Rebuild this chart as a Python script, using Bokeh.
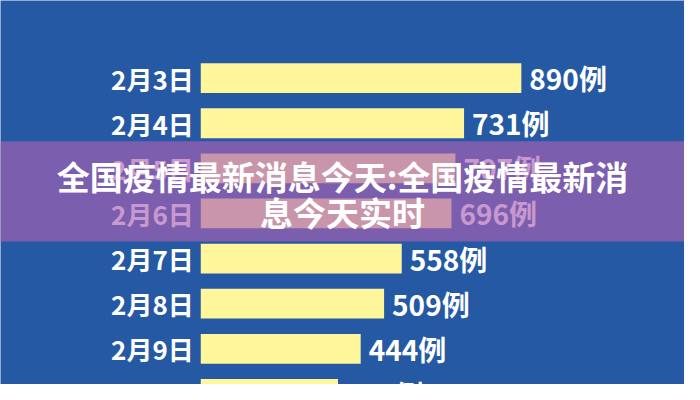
import numpy as np
from bokeh.plotting import figure
from bokeh.models import ColumnDataSource, Range1d, BoxAnnotation, Label
from bokeh.core.properties import value
from bokeh.embed import file_html
from bokeh.resources import INLINE

# Data
dates = ["2月3日", "2月4日", "2月5日", "2月6日", "2月7日", "2月8日", "2月9日", "2月10日"]
cases = [890, 731, 707, 696, 558, 509, 444, 381]
unit = "例"
overlay_line1 = "全国疫情最新消息今天:全国疫情最新消"
overlay_line2 = "息今天实时"

BLUE = "#2659A3"
YELLOW = "#FFF59B"
FONT = "Noto Sans CJK SC"

idx = np.arange(len(dates))
source = ColumnDataSource(dict(
    y=idx,
    cases=cases,
    zero=[0] * len(cases),
    date=dates,
    label=[f"{v}{unit}" for v in cases],
))

p = figure(width=684, height=384, output_backend="svg", toolbar_location=None,
           x_range=Range1d(-556, 1343), y_range=Range1d(6.79, -1.72),
           min_border=0)
p.background_fill_color = BLUE
p.border_fill_color = BLUE
p.outline_line_color = None
p.axis.visible = False
p.grid.visible = False

p.hbar(y="y", left="zero", right="cases", height=0.66, source=source,
       fill_color=YELLOW, line_color=None)

p.text(x="zero", y="y", text="date", source=source, x_offset=-7,
       text_align="right", text_baseline="middle", text_color="white",
       text_font=value(FONT), text_font_style="bold", text_font_size="26px")
p.text(x="cases", y="y", text="label", source=source, x_offset=8,
       text_align="left", text_baseline="middle", text_color="white",
       text_font=value(FONT), text_font_style="bold", text_font_size="28px")

band = BoxAnnotation(top=1.40, bottom=3.62, fill_color="#AA61B4", fill_alpha=0.65,
                     line_color=None)
p.add_layout(band)

xc = (p.x_range.start + p.x_range.end) / 2
for txt, yy in [(overlay_line1, 2.17), (overlay_line2, 2.96)]:
    p.add_layout(Label(x=xc, y=yy, text=txt, text_align="center",
                       text_baseline="middle", text_color="white",
                       text_font=FONT, text_font_style="bold",
                       text_font_size="33px"))

open("out.html", "w").write(file_html(p, INLINE))
